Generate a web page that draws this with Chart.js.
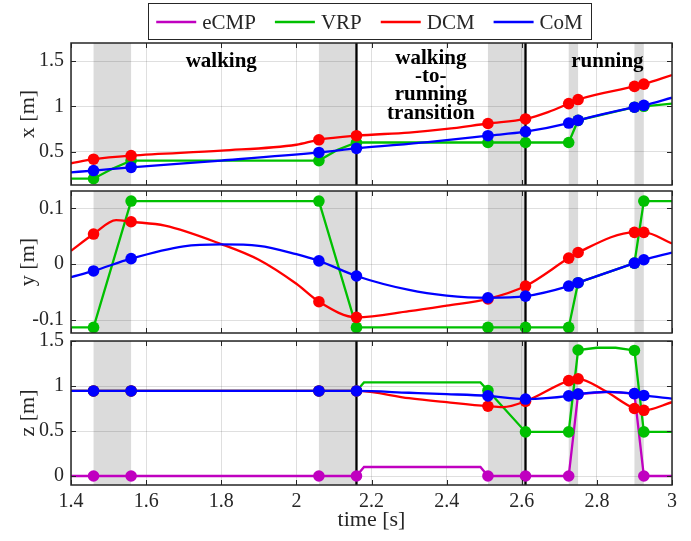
<!DOCTYPE html>
<html>
<head>
<meta charset="utf-8">
<script src="https://cdn.jsdelivr.net/npm/chart.js@4.4.0/dist/chart.umd.min.js"></script>
<style>
  html, body { margin: 0; padding: 0; background: #fff; }
  #wrap { position: relative; width: 691px; height: 541px; }
  #wrap canvas { position: absolute; left: 0; }
</style>
</head>
<body>
<div id="wrap">
  <canvas id="cx" width="691" height="188" style="top:0px"></canvas>
  <canvas id="cy" width="691" height="156" style="top:180px"></canvas>
  <canvas id="cz" width="691" height="215" style="top:326px"></canvas>
</div>
<script>
// series names and colours (legend order)
const names = ['eCMP', 'VRP', 'DCM', 'CoM'];
const colors = ['#c000c0', '#00c000', '#ff0000', '#0000ff'];

const xTicks = [1.4, 1.6, 1.8, 2, 2.2, 2.4, 2.6, 2.8, 3];
const events = [1.46, 1.56, 2.06, 2.16, 2.51, 2.61, 2.725, 2.75, 2.9, 2.925];
const stance = [[1.46, 1.56], [2.06, 2.16], [2.51, 2.61], [2.725, 2.75], [2.9, 2.925]];
const phaseLines = [2.16, 2.61];

// x [m]
const vrpX = [[1.4, 0.2], [1.46, 0.2], [1.51, 0.31], [1.56, 0.4], [2.06, 0.4], [2.11, 0.52], [2.16, 0.6],
  [2.51, 0.6], [2.61, 0.6], [2.725, 0.6], [2.75, 0.845], [2.9, 0.99], [2.925, 1.0], [3.0, 1.03]];
const dcmX = [[1.4, 0.37], [1.46, 0.415], [1.56, 0.455], [1.8, 0.51], [2.0, 0.575], [2.06, 0.63], [2.16, 0.675],
  [2.3, 0.71], [2.4, 0.75], [2.51, 0.81], [2.61, 0.86], [2.67, 0.935], [2.725, 1.03], [2.75, 1.075],
  [2.9, 1.22], [2.925, 1.245], [3.0, 1.345]];
const comX = [[1.4, 0.27], [1.46, 0.29], [1.56, 0.325], [1.8, 0.40], [2.06, 0.49], [2.16, 0.535], [2.35, 0.605],
  [2.51, 0.675], [2.61, 0.72], [2.725, 0.815], [2.75, 0.845], [2.9, 0.99], [2.925, 1.01], [3.0, 1.095]];

// y [m]
const vrpY = [[1.4, -0.113], [1.46, -0.113], [1.56, 0.113], [2.06, 0.113], [2.16, -0.113], [2.51, -0.113],
  [2.61, -0.113], [2.725, -0.113], [2.75, -0.033], [2.9, 0.002], [2.925, 0.113], [3.0, 0.113]];
const dcmY = [[1.4, 0.024], [1.46, 0.054], [1.52, 0.079], [1.56, 0.076], [1.65, 0.069], [1.8, 0.036], [1.9, 0.008],
  [2.0, -0.035], [2.06, -0.067], [2.16, -0.095], [2.3, -0.084], [2.4, -0.074], [2.51, -0.062], [2.61, -0.039],
  [2.725, 0.011], [2.75, 0.021], [2.9, 0.057], [2.925, 0.057], [3.0, 0.037]];
const comY = [[1.4, -0.023], [1.46, -0.012], [1.56, 0.010], [1.7, 0.032], [1.8, 0.0355], [1.9, 0.033], [2.0, 0.018],
  [2.06, 0.006], [2.16, -0.021], [2.3, -0.046], [2.4, -0.056], [2.51, -0.06], [2.61, -0.057], [2.725, -0.039],
  [2.75, -0.033], [2.9, 0.002], [2.925, 0.008], [3.0, 0.021]];

// z [m]
const ecmpZ = [[1.4, 0], [1.46, 0], [1.56, 0], [2.06, 0], [2.16, 0], [2.18, 0.1], [2.49, 0.1], [2.51, 0],
  [2.61, 0], [2.725, 0], [2.75, 0.91], [2.83, 0.935], [2.9, 0.915], [2.925, 0], [3.0, 0]];
const vrpZ = [[1.4, 0.945], [1.46, 0.945], [1.56, 0.945], [2.06, 0.945], [2.16, 0.945], [2.18, 1.04], [2.49, 1.04],
  [2.51, 0.95], [2.61, 0.49], [2.725, 0.49], [2.75, 1.40], [2.8, 1.425], [2.85, 1.425], [2.9, 1.395],
  [2.925, 0.49], [3.0, 0.49]];
const dcmZ = [[1.4, 0.945], [1.46, 0.945], [1.56, 0.945], [2.06, 0.945], [2.16, 0.945], [2.3, 0.865], [2.4, 0.82],
  [2.51, 0.775], [2.55, 0.765], [2.61, 0.83], [2.725, 1.06], [2.75, 1.08], [2.82, 0.95], [2.9, 0.75],
  [2.925, 0.73], [3.0, 0.82]];
const comZ = [[1.4, 0.945], [1.46, 0.945], [1.56, 0.945], [2.06, 0.945], [2.16, 0.945], [2.3, 0.925], [2.4, 0.91],
  [2.51, 0.89], [2.61, 0.855], [2.725, 0.89], [2.75, 0.91], [2.83, 0.935], [2.9, 0.915], [2.925, 0.895], [3.0, 0.86]];

const serif = "'Liberation Serif', 'Times New Roman', serif";
const axisColor = '#262626';
const gridColor = 'rgba(38,38,38,0.15)';

// phase labels in the top panel (x in seconds, baseline offset from plot top)
const phaseText = [
  { t: 1.8, lines: ['walking'], dy: 24 },
  { t: 2.358, lines: ['walking', '-to-', 'running', 'transition'], dy: 21 },
  { t: 2.828, lines: ['running'], dy: 24 }
];

const frame = {
  id: 'frame',
  beforeDatasetsDraw(chart) {
    const { ctx, chartArea: a, scales: { x } } = chart;
    ctx.save();
    ctx.fillStyle = 'rgba(0,0,0,0.14)';
    stance.forEach(([t0, t1]) => {
      const p0 = x.getPixelForValue(t0), p1 = x.getPixelForValue(t1);
      ctx.fillRect(p0, a.top, p1 - p0, a.bottom - a.top);
    });
    ctx.strokeStyle = '#000';
    ctx.lineWidth = 2.3;
    phaseLines.forEach(t => {
      const p = x.getPixelForValue(t);
      ctx.beginPath(); ctx.moveTo(p, a.top); ctx.lineTo(p, a.bottom); ctx.stroke();
    });
    ctx.restore();
  },
  afterDraw(chart) {
    const { ctx, chartArea: a, scales: { x, y } } = chart;
    ctx.save();
    ctx.strokeStyle = axisColor;
    ctx.lineWidth = 1;
    ctx.beginPath();
    x.ticks.forEach(tk => {
      const p = Math.round(x.getPixelForValue(tk.value)) + 0.5;
      ctx.moveTo(p, a.top); ctx.lineTo(p, a.top + 5);
      ctx.moveTo(p, a.bottom); ctx.lineTo(p, a.bottom - 5);
    });
    y.ticks.forEach(tk => {
      const p = Math.round(y.getPixelForValue(tk.value)) + 0.5;
      ctx.moveTo(a.left, p); ctx.lineTo(a.left + 5, p);
      ctx.moveTo(a.right, p); ctx.lineTo(a.right - 5, p);
    });
    ctx.stroke();
    ctx.lineWidth = 1.5;
    ctx.strokeRect(a.left, a.top, a.right - a.left, a.bottom - a.top);
    ctx.restore();
  }
};

const topDecor = {
  id: 'topDecor',
  afterDraw(chart) {
    const { ctx, chartArea: a, scales: { x } } = chart;
    ctx.save();
    // phase labels
    ctx.fillStyle = '#000';
    ctx.font = 'bold 21px ' + serif;
    ctx.textAlign = 'center';
    ctx.textBaseline = 'alphabetic';
    phaseText.forEach(p => {
      const px = x.getPixelForValue(p.t);
      p.lines.forEach((s, i) => ctx.fillText(s, px, a.top + p.dy + i * 18.2));
    });
    // legend
    ctx.font = '21px ' + serif;
    ctx.textAlign = 'left';
    ctx.textBaseline = 'middle';
    const lineLen = 40, gap = 6, space = 19, pad = 8;
    const widths = names.map(n => ctx.measureText(n).width);
    const total = widths.reduce((s, w) => s + lineLen + gap + w, 0) + space * (names.length - 1) + pad * 2;
    const cx = (a.left + a.right) / 2 - 2;
    const left = cx - total / 2, top = 3, h = 36, mid = top + h / 2 + 1;
    ctx.fillStyle = '#fff';
    ctx.fillRect(left, top, total, h);
    ctx.strokeStyle = axisColor;
    ctx.lineWidth = 1;
    ctx.strokeRect(Math.round(left) + 0.5, top + 0.5, Math.round(total), h);
    let px = left + pad;
    names.forEach((n, i) => {
      ctx.strokeStyle = colors[i];
      ctx.lineWidth = 2.3;
      ctx.beginPath(); ctx.moveTo(px, mid); ctx.lineTo(px + lineLen, mid); ctx.stroke();
      px += lineLen + gap;
      ctx.fillStyle = axisColor;
      ctx.fillText(n, px, mid + 1);
      px += widths[i] + space;
    });
    ctx.restore();
  }
};

function makeDataset(i, pts, smooth) {
  return {
    label: names[i],
    data: pts.map(([t, v]) => ({ x: t, y: v })),
    borderColor: colors[i],
    backgroundColor: colors[i],
    borderWidth: 2.3,
    pointRadius: ctx => (ctx.raw && events.includes(ctx.raw.x)) ? 5.8 : 0,
    pointBorderWidth: 0,
    pointHoverRadius: 0,
    tension: 0,
    cubicInterpolationMode: smooth ? 'monotone' : 'default',
    order: 4 - i
  };
}

function panel(id, datasets, yMin, yMax, yTicks, yTitle, padTop, showX, plugins) {
  return new Chart(document.getElementById(id), {
    type: 'line',
    data: { datasets },
    options: {
      responsive: false,
      animation: false,
      events: [],
      layout: { padding: { left: 0, right: 19, top: padTop, bottom: showX ? 0 : 3 } },
      plugins: { legend: { display: false }, tooltip: { enabled: false } },
      scales: {
        x: {
          type: 'linear', min: 1.4, max: 3,
          afterBuildTicks: s => { s.ticks = xTicks.map(v => ({ value: v })); },
          afterFit: s => { s.height = showX ? 56 : 0; },
          ticks: {
            display: showX, padding: 5, autoSkip: false, maxRotation: 0,
            color: axisColor, font: { family: serif, size: 20 },
            callback: v => String(v)
          },
          grid: { color: gridColor, drawTicks: false },
          border: { display: false },
          title: {
            display: showX, text: 'time [s]', color: axisColor,
            font: { family: serif, size: 22 }, padding: { top: 0, bottom: 8 }
          }
        },
        y: {
          type: 'linear', min: yMin, max: yMax,
          afterBuildTicks: s => { s.ticks = yTicks.map(v => ({ value: v })); },
          afterFit: s => { s.width = 71; s.paddingTop = 0; s.paddingBottom = 0; },
          ticks: {
            padding: 7, color: axisColor, font: { family: serif, size: 20 },
            callback: v => String(v)
          },
          grid: { color: gridColor, drawTicks: false },
          border: { display: false },
          title: {
            display: true, text: yTitle, color: axisColor,
            font: { family: serif, size: 22 }, padding: { top: 15, bottom: 0 }
          }
        }
      }
    },
    plugins
  });
}

panel('cx', [makeDataset(1, vrpX, false), makeDataset(2, dcmX, true), makeDataset(3, comX, true)],
  0.13, 1.7, [0.5, 1, 1.5], 'x [m]', 43, false, [frame, topDecor]);
panel('cy', [makeDataset(1, vrpY, false), makeDataset(2, dcmY, true), makeDataset(3, comY, true)],
  -0.123, 0.131, [-0.1, 0, 0.1], 'y [m]', 11, false, [frame]);
panel('cz', [makeDataset(0, ecmpZ, false), makeDataset(1, vrpZ, false), makeDataset(2, dcmZ, true), makeDataset(3, comZ, true)],
  -0.1, 1.5, [0, 0.5, 1, 1.5], 'z [m]', 15, true, [frame]);
</script>
</body>
</html>
